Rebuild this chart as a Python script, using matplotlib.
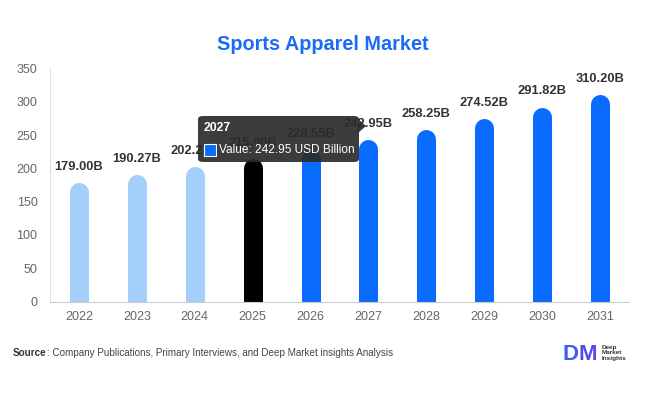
import matplotlib
matplotlib.use("Agg")
import matplotlib.pyplot as plt
from matplotlib.patches import FancyBboxPatch, Rectangle, Polygon

plt.rcParams["font.family"] = ["Liberation Sans", "DejaVu Sans"]

years = ["2022", "2023", "2024", "2025", "2026", "2027", "2028", "2029", "2030", "2031"]
values = [179.00, 190.27, 202.27, 215.00, 228.55, 242.95, 258.25, 274.52, 291.82, 310.20]
labels = ["179.00B", "190.27B", "202.27B", "215.00B", "228.55B", "242.95B",
          "258.25B", "274.52B", "291.82B", "310.20B"]
colors = ["#a3cffa"] * 3 + ["#000000"] + ["#0a6cff"] * 6
yticks = [0, 50, 100, 150, 200, 250, 300, 350]

W, H = 646, 394
fig = plt.figure(figsize=(W / 100, H / 100), dpi=100)
fig.patch.set_facecolor("white")
ax = fig.add_axes([50 / W, (H - 301.5) / H, (629 - 50) / W, (301.5 - 68.4) / H])
ax.set_xlim(-0.5, len(years) - 0.5)
ax.set_ylim(0, 350)

# bar geometry: width 19 px, rounded top
px_per_unit = (301.5 - 68.4) / 350
r_data = 9.5 / px_per_unit
lw_pt = 19 * 72 / 100
for i, (v, c) in enumerate(zip(values, colors)):
    ax.plot([i, i], [-r_data, v - r_data], color=c, linewidth=lw_pt,
            solid_capstyle="round", zorder=2)
    ax.annotate(labels[i], (i, v), xytext=(0, 7), textcoords="offset points",
                ha="center", va="bottom", fontsize=9.3, fontweight="bold",
                color="#333333", zorder=3)

ax.set_xticks(range(len(years)))
ax.set_xticklabels(years)
ax.set_yticks(yticks)
ax.tick_params(axis="both", length=0, labelsize=9, colors="#666666")
ax.tick_params(axis="x", pad=7)
ax.tick_params(axis="y", pad=9)
for s in ["top", "right"]:
    ax.spines[s].set_visible(False)
ax.spines["left"].set_color("#e0e0e0")
ax.spines["bottom"].set_color("#cccccc")
ax.spines["left"].set_linewidth(0.8)
ax.spines["bottom"].set_linewidth(0.8)
ax.set_facecolor("none")

# title
fig.text(0.5, (H - 45) / H, "Sports Apparel Market", ha="center", va="center",
         fontsize=14.3, fontweight="bold", color="#1a6cf5")

# tooltip (pixel helper)
def fx(x):
    return x / W

def fy(y):
    return (H - y) / H

box = FancyBboxPatch((fx(198), fy(162)), fx(359) - fx(198), fy(116) - fy(162),
                     boxstyle="round,pad=0,rounding_size=0.008",
                     transform=fig.transFigure, facecolor="#2b2b2b",
                     edgecolor="none", alpha=0.92, zorder=10)
fig.patches.append(box)
tri = Polygon([[fx(358), fy(119)], [fx(366), fy(126)], [fx(358), fy(133)]],
              closed=True, transform=fig.transFigure, facecolor="#2b2b2b",
              edgecolor="none", alpha=0.92, zorder=10)
fig.patches.append(tri)
fig.text(fx(204), fy(128), "2027", ha="left", va="center", fontsize=8.8,
         fontweight="bold", color="white", zorder=11)
sq = Rectangle((fx(204), fy(156)), fx(12), fy(144) - fy(156),
               transform=fig.transFigure, facecolor="#0a6cff",
               edgecolor="white", linewidth=0.8, zorder=11)
fig.patches.append(sq)
fig.text(fx(219), fy(150), "Value: 242.95 USD Billion", ha="left", va="center",
         fontsize=8.55, color="white", zorder=11)

# source
src1 = fig.text(fx(13), fy(353), "Source", ha="left", va="center", fontsize=7.1,
                color="#333333", fontweight="bold")
fig.canvas.draw()
bb = src1.get_window_extent()
fig.text(bb.x1 / W, fy(353), ": Company Publications, Primary Interviews, and Deep Market insights Analysis",
         ha="left", va="center", fontsize=7.1, color="#444444")

# logo
d_txt = fig.text(fx(563), fy(354), "D", ha="left", va="center", fontsize=16,
                 fontweight="bold", color="#3d5cf2")
fig.canvas.draw()
db = d_txt.get_window_extent()
fig.text(db.x1 / W, fy(354), "M", ha="left", va="center", fontsize=16,
         fontweight="bold", color="#5a46ee")
fig.text(fx(602), fy(353), "Deep\nMarket\nInsights", ha="left", va="center",
         fontsize=4.6, color="#333333", linespacing=1.05, fontweight="bold")

fig.savefig("out.png", dpi=100, facecolor="white")
